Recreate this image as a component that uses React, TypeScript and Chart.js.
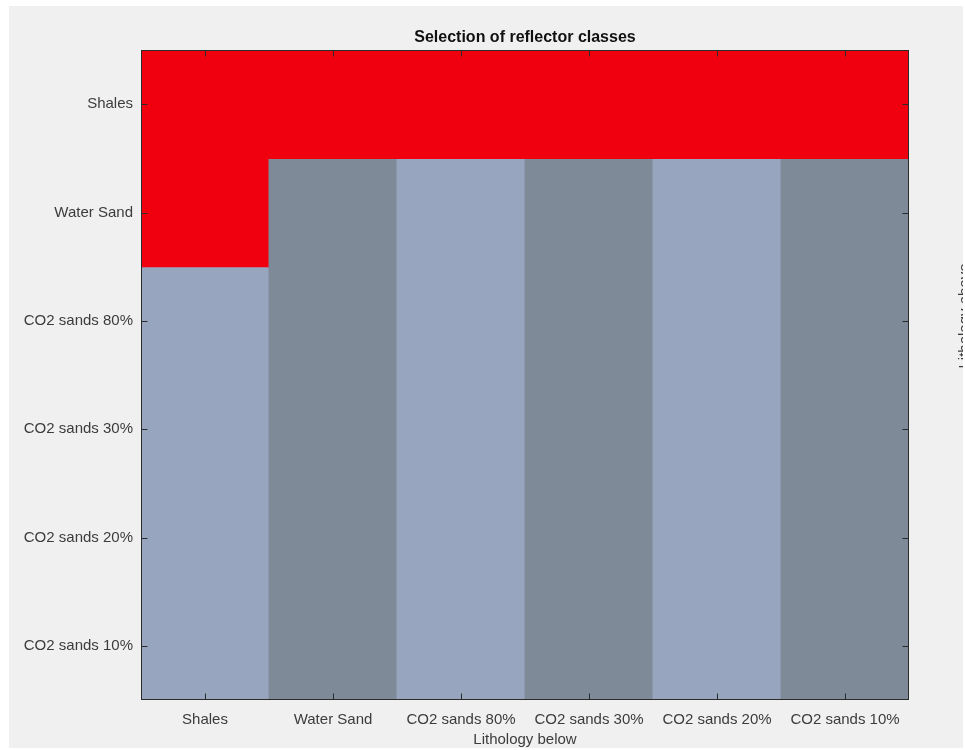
import { useEffect, useRef } from 'react';
import { Chart, registerables } from 'chart.js';

Chart.register(...registerables);

// Lithology classes along each axis
const lithologyBelow = ['Shales', 'Water Sand', 'CO2 sands 80%', 'CO2 sands 30%', 'CO2 sands 20%', 'CO2 sands 10%'];
const lithologyAbove = ['Shales', 'Water Sand', 'CO2 sands 80%', 'CO2 sands 30%', 'CO2 sands 20%', 'CO2 sands 10%'];

// Reflector class per (above, below) pair: 1 = light, 2 = dark, 3 = red
const classShales = [3, 3, 3, 3, 3, 3];
const classWaterSand = [3, 2, 1, 2, 1, 2];
const classCO2Sands80 = [1, 2, 1, 2, 1, 2];
const classCO2Sands30 = [1, 2, 1, 2, 1, 2];
const classCO2Sands20 = [1, 2, 1, 2, 1, 2];
const classCO2Sands10 = [1, 2, 1, 2, 1, 2];

const classRows = [classShales, classWaterSand, classCO2Sands80, classCO2Sands30, classCO2Sands20, classCO2Sands10];

const classColors: Record<number, string> = {
  1: '#97a5bf',
  2: '#7f8a99',
  3: '#f0000f',
};

const FONT = '"Liberation Sans", Arial, Helvetica, sans-serif';
const TEXT = '#3c3c3c';
const AXIS = '#2b2b2b';

const framePlugin = {
  id: 'matlabFrame',
  beforeDraw(chart: any) {
    const { ctx, width, height } = chart;
    ctx.save();
    ctx.fillStyle = '#ffffff';
    ctx.fillRect(0, 0, width, height);
    ctx.fillStyle = '#f0f0f0';
    ctx.fillRect(9, 6, 954, 742);
    ctx.restore();
  },
  afterDraw(chart: any) {
    const { ctx, chartArea: a, scales } = chart;
    const x = scales.x;
    const y = scales.y;
    ctx.save();
    ctx.strokeStyle = AXIS;
    ctx.lineWidth = 1;
    const L = Math.round(a.left) + 0.5;
    const R = Math.round(a.right) - 0.5;
    const T = Math.round(a.top) + 0.5;
    const B = Math.round(a.bottom) - 0.5;
    ctx.strokeRect(L, T, R - L, B - T);
    const len = 6;
    ctx.beginPath();
    x.ticks.forEach((_: any, i: number) => {
      const px = Math.round(x.getPixelForTick(i)) + 0.5;
      ctx.moveTo(px, B);
      ctx.lineTo(px, B - len);
      ctx.moveTo(px, T);
      ctx.lineTo(px, T + len);
    });
    y.ticks.forEach((_: any, i: number) => {
      const py = Math.round(y.getPixelForTick(i)) + 0.5;
      ctx.moveTo(L, py);
      ctx.lineTo(L + len, py);
      ctx.moveTo(R, py);
      ctx.lineTo(R - len, py);
    });
    ctx.stroke();

    // right-hand axis label, partly beyond the figure edge
    ctx.beginPath();
    ctx.rect(0, 0, 963, chart.height);
    ctx.clip();
    ctx.translate(958, 316);
    ctx.rotate(-Math.PI / 2);
    ctx.fillStyle = TEXT;
    ctx.font = `15px ${FONT}`;
    ctx.textAlign = 'center';
    ctx.textBaseline = 'top';
    ctx.fillText('Lithology above', 0, -1);
    ctx.restore();
  },
};

export default function App() {
  const ref = useRef<HTMLCanvasElement | null>(null);

  useEffect(() => {
    const canvas = ref.current;
    if (!canvas) return;
    const datasets = lithologyAbove.map((row, r) => ({
      label: row,
      data: lithologyBelow.map(() => [r - 0.5, r + 0.5] as [number, number]),
      backgroundColor: classRows[r].map((k) => classColors[k]),
      borderWidth: 0,
      barPercentage: 1,
      categoryPercentage: 1,
      inflateAmount: 0.5,
    }));

    const chart = new Chart(canvas, {
      type: 'bar',
      data: { labels: lithologyBelow, datasets },
      plugins: [framePlugin],
      options: {
        responsive: false,
        animation: false,
        devicePixelRatio: 1,
        layout: { padding: { left: 0, right: 56, top: 0, bottom: 0 } },
        plugins: {
          legend: { display: false },
          tooltip: { enabled: false },
          title: {
            display: true,
            fullSize: false,
            text: 'Selection of reflector classes',
            color: '#111111',
            font: { family: FONT, size: 16, weight: 'bold' },
            padding: { top: 28, bottom: 3 },
          },
        },
        scales: {
          x: {
            stacked: true,
            grid: { display: false, drawTicks: false },
            border: { display: false },
            ticks: {
              color: TEXT,
              font: { family: FONT, size: 15 },
              padding: 11,
              maxRotation: 0,
              autoSkip: false,
            },
            title: {
              display: true,
              text: 'Lithology below',
              color: TEXT,
              font: { family: FONT, size: 15 },
              padding: { top: 0, bottom: 1 },
            },
            afterFit: (s: any) => {
              s.height = 50;
            },
          },
          y: {
            type: 'linear',
            min: -0.5,
            max: 5.5,
            reverse: true,
            grid: { display: false, drawTicks: false },
            border: { display: false },
            afterBuildTicks: (s: any) => {
              s.ticks = lithologyAbove.map((_, i) => ({ value: i }));
            },
            ticks: {
              color: TEXT,
              font: { family: FONT, size: 15 },
              padding: 8,
              callback: (v: any) => lithologyAbove[v as number] ?? '',
            },
            afterFit: (s: any) => {
              s.width = 141;
            },
          },
        },
      } as any,
    });
    return () => chart.destroy();
  }, []);

  return (
    <div style={{ position: 'absolute', left: 0, top: 0, width: 965, height: 750 }}>
      <canvas ref={ref} width={965} height={750} style={{ display: 'block' }} />
    </div>
  );
}
